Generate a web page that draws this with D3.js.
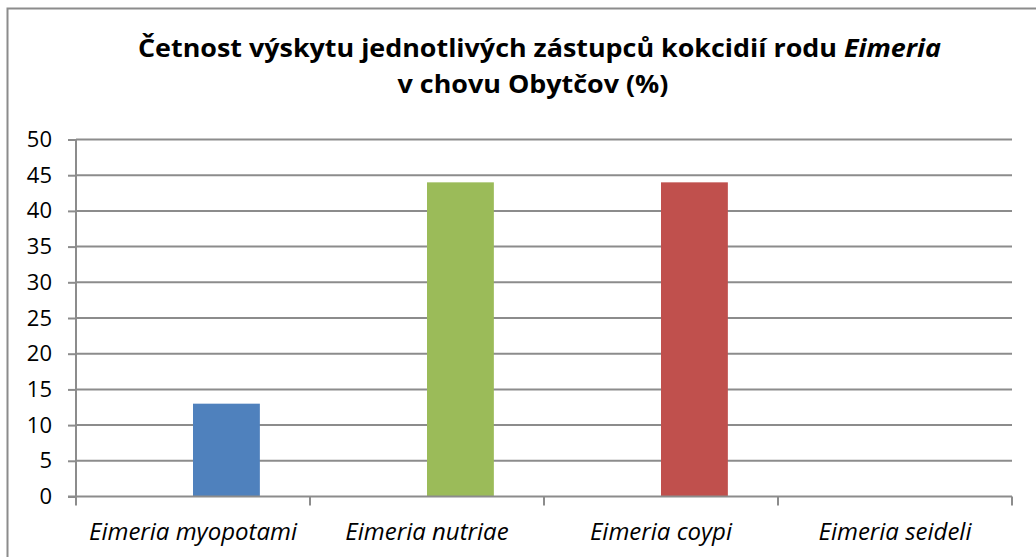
<!DOCTYPE html>
<html><head><meta charset="utf-8">
<script src="https://cdn.jsdelivr.net/npm/d3@7"></script>
<style>body{margin:0;background:#fff}svg{display:block}</style>
</head><body>
<svg id="c" width="1036" height="557"></svg>
<script>
const categories = ["Eimeria myopotami", "Eimeria nutriae", "Eimeria coypi", "Eimeria seideli"];
const values = [13, 44, 44, 0];
const colors = ["#4F81BD", "#9BBB59", "#C0504D", "#8064A2"];
const yTicks = [0, 5, 10, 15, 20, 25, 30, 35, 40, 45, 50];
const titleLine1 = "Četnost výskytu jednotlivých zástupců kokcidií rodu ";
const titleItalic = "Eimeria";
const titleLine2 = "v chovu Obytčov (%)";

const svg = d3.select("#c");
const font = "'Open Sans', sans-serif";
const L = 76, R = 1012, T = 139.5, B = 496.5;

// squeeze/stretch text horizontally to match a target width
function fitWidth(sel, refNode, target) {
  const k = target / refNode.getComputedTextLength();
  sel.each(function () {
    const w = this.getComputedTextLength();
    d3.select(this).attr("textLength", w * k).attr("lengthAdjust", "spacingAndGlyphs");
  });
}

svg.append("rect").attr("x", 7.5).attr("y", 8.5).attr("width", 1040).attr("height", 560)
  .attr("fill", "#fff").attr("stroke", "#8c8c8c").attr("stroke-width", 2);

const x0 = d3.scaleBand().domain(categories).range([L, R]).padding(0);
const x1 = d3.scaleBand().domain([0, 1]).range([0, x0.bandwidth()]).paddingInner(0).paddingOuter(0.75);
const y = d3.scaleLinear().domain([0, 50]).range([B, T]);

// gridlines
svg.append("g").selectAll("line").data(yTicks.filter(d => d > 0)).join("line")
  .attr("x1", L).attr("x2", R).attr("y1", d => y(d)).attr("y2", d => y(d))
  .attr("stroke", "#8c8c8c").attr("stroke-width", 2);

// bars
svg.append("g").selectAll("rect").data(categories).join("rect")
  .attr("x", (d) => x0(d) + x1(1))
  .attr("width", x1.bandwidth())
  .attr("y", (d, i) => y(values[i]))
  .attr("height", (d, i) => B - y(values[i]))
  .attr("fill", (d, i) => colors[i]);

// y axis
const yAxis = d3.axisLeft(y).tickValues(yTicks).tickSize(8).tickPadding(16);
const gy = svg.append("g").attr("transform", `translate(${L},0)`).call(yAxis);
gy.select(".domain").attr("stroke", "#8c8c8c").attr("stroke-width", 2).attr("d", `M0,${T}V${B}`);
gy.selectAll(".tick line").attr("stroke", "#8c8c8c").attr("stroke-width", 2);
gy.selectAll(".tick text").attr("font-family", font).attr("font-size", 22).attr("fill", "#000");

// x axis
const xb = [L].concat(categories.map(c => x0(c) + x0.bandwidth()));
const gx = svg.append("g");
gx.append("line").attr("x1", L - 8).attr("x2", R).attr("y1", B).attr("y2", B)
  .attr("stroke", "#8c8c8c").attr("stroke-width", 2);
gx.selectAll("line.tk").data(xb).join("line").attr("class", "tk")
  .attr("x1", d => d).attr("x2", d => d).attr("y1", B).attr("y2", B + 9)
  .attr("stroke", "#8c8c8c").attr("stroke-width", 2);
const xl = gx.selectAll("text").data(categories).join("text")
  .attr("x", d => x0(d) + x0.bandwidth() / 2).attr("y", 540)
  .attr("text-anchor", "middle").attr("font-family", font).attr("font-size", 23)
  .attr("font-style", "italic").attr("fill", "#000").text(d => d);
fitWidth(xl, xl.node(), 208);

// title
const t1 = svg.append("text").attr("x", 539.5).attr("y", 57).attr("text-anchor", "middle")
  .attr("font-family", font).attr("font-size", 25).attr("font-weight", "bold").attr("fill", "#000");
t1.append("tspan").text(titleLine1);
t1.append("tspan").attr("font-style", "italic").text(titleItalic);
const t2 = svg.append("text").attr("x", 533).attr("y", 93).attr("text-anchor", "middle")
  .attr("font-family", font).attr("font-size", 25).attr("font-weight", "bold").attr("fill", "#000")
  .text(titleLine2);
const tk = 803 / t1.node().getComputedTextLength();
t1.attr("textLength", 803).attr("lengthAdjust", "spacingAndGlyphs");
t2.attr("textLength", t2.node().getComputedTextLength() * tk).attr("lengthAdjust", "spacingAndGlyphs");
</script>
</body></html>
